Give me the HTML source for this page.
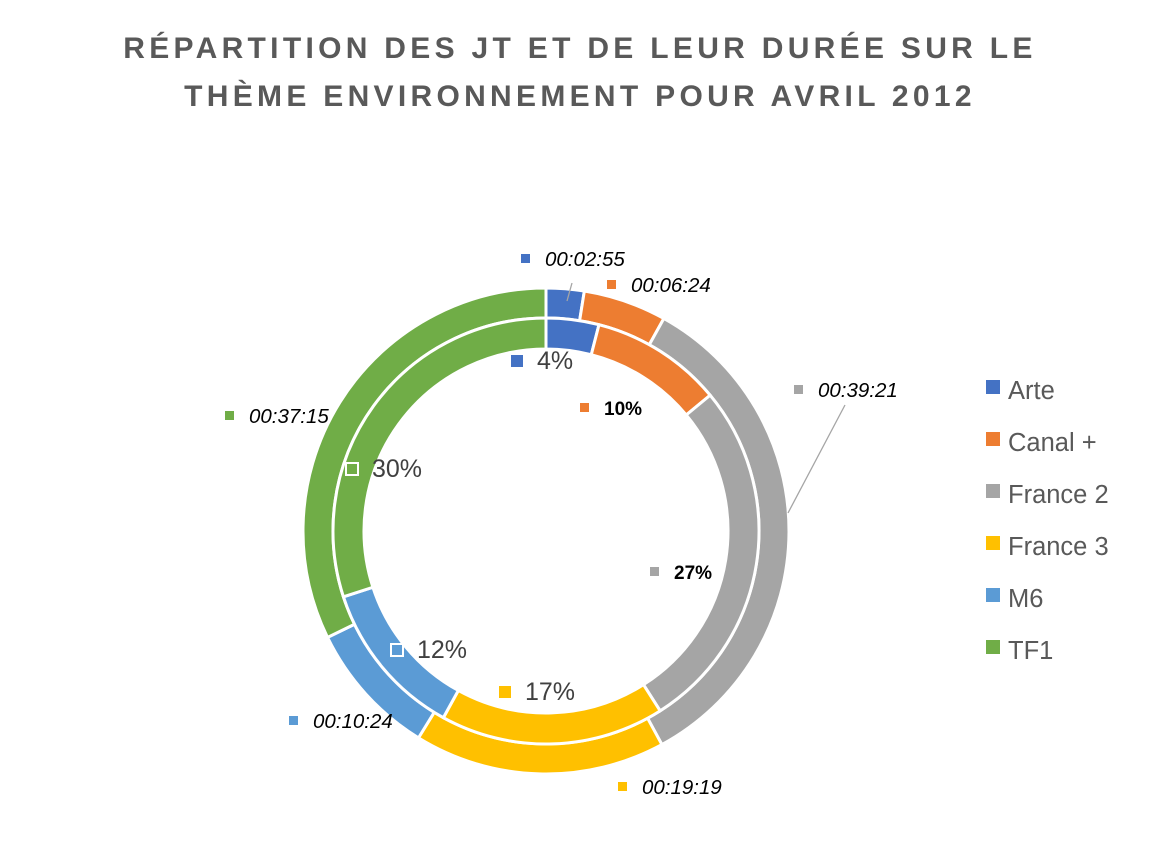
<!DOCTYPE html>
<html><head><meta charset="utf-8"><style>
body{margin:0;background:#fff;width:1160px;height:858px;overflow:hidden;font-family:"Liberation Sans",sans-serif}
</style></head><body>
<svg width="1160" height="858" style="position:absolute;left:0;top:0">
<text x="580" y="58" text-anchor="middle" font-size="30" font-weight="bold" fill="#595959" letter-spacing="4.3">RÉPARTITION DES JT ET DE LEUR DURÉE SUR LE</text>
<text x="580" y="106" text-anchor="middle" font-size="30" font-weight="bold" fill="#595959" letter-spacing="4.3">THÈME ENVIRONNEMENT POUR AVRIL 2012</text>
<g id="rings"></g>
<g id="labels"></g>
<g id="legend"></g>
</svg>
<script>
const categories=["Arte","Canal +","France 2","France 3","M6","TF1"];
const colors=["#4472c4","#ed7d31","#a5a5a5","#ffc000","#5b9bd5","#70ad47"];
const durationsSec=[175,384,2361,1159,624,2235];
const durationLabels=["00:02:55","00:06:24","00:39:21","00:19:19","00:10:24","00:37:15"];
const percentValues=[4,10,27,17,12,30];
const NS="http://www.w3.org/2000/svg";
const cx=546,cy=531;
function arc(r0,r1,a0,a1){
  const p=(r,a)=>[cx+r*Math.sin(a),cy-r*Math.cos(a)];
  const l=(a1-a0)>Math.PI?1:0;
  const [x0,y0]=p(r1,a0),[x1,y1]=p(r1,a1),[x2,y2]=p(r0,a1),[x3,y3]=p(r0,a0);
  return `M${x0},${y0}A${r1},${r1} 0 ${l} 1 ${x1},${y1}L${x2},${y2}A${r0},${r0} 0 ${l} 0 ${x3},${y3}Z`;
}
function ring(vals,r0,r1,name){
  const tot=vals.reduce((a,b)=>a+b,0);let a=0;
  const g=document.getElementById('rings');
  vals.forEach((v,i)=>{
    const a1=a+v/tot*2*Math.PI;
    const p=document.createElementNS(NS,'path');
    p.setAttribute('d',arc(r0,r1,a,a1));
    p.setAttribute('fill',colors[i]);p.setAttribute('stroke','#fff');p.setAttribute('stroke-width','3');
    
    
    g.appendChild(p);a=a1;
  });
}
ring(durationsSec,213,243,'outer-slice');
ring(percentValues,182,213,'inner-slice');
const L=document.getElementById('labels');
function lab(x,y,txt,col,opts,name){
  const r=document.createElementNS(NS,'rect');
  r.setAttribute('x',x);r.setAttribute('y',y-(opts.big?14:12));r.setAttribute('width',opts.big?12:9);r.setAttribute('height',opts.big?12:9);
  r.setAttribute('fill',col);if(opts.outline){r.setAttribute('stroke','#fff');r.setAttribute('stroke-width','2');}
  L.appendChild(r);
  const t=document.createElementNS(NS,'text');
  t.setAttribute('x',x+(opts.big?26:24));t.setAttribute('y',y);t.textContent=txt;
  t.setAttribute('font-size',opts.fs||19);t.setAttribute('fill',opts.fill||'#000');
  if(opts.italic)t.setAttribute('font-style','italic');if(opts.bold)t.setAttribute('font-weight','bold');
  L.appendChild(t);
}
const durPos=[[521,266],[607,292],[794,397],[618,794],[289,728],[225,423]];
durationLabels.forEach((d,i)=>lab(durPos[i][0],durPos[i][1],d,colors[i],{italic:true,fs:20.5},'duration-label-'+i));
const pctPos=[[511,369],[580,415],[650,579],[499,700],[391,658],[346,477]];
const pctStyle=[{big:true,fs:25,fill:'#404040'},{bold:true,fs:19},{bold:true,fs:19},{big:true,fs:25,fill:'#404040'},{big:true,outline:true,fs:25,fill:'#404040'},{big:true,outline:true,fs:25,fill:'#404040'}];
percentValues.forEach((v,i)=>lab(pctPos[i][0],pctPos[i][1],v+'%',colors[i],pctStyle[i],'percent-label-'+i));
[[567,301,572,283],[788,513,845,405]].forEach((c,i)=>{const l=document.createElementNS(NS,'line');
l.setAttribute('x1',c[0]);l.setAttribute('y1',c[1]);l.setAttribute('x2',c[2]);l.setAttribute('y2',c[3]);
l.setAttribute('stroke','#a5a5a5');l.setAttribute('stroke-width','1.3');
L.appendChild(l);});
const G=document.getElementById('legend');
categories.forEach((c,i)=>{const y=390+i*52;
 const r=document.createElementNS(NS,'rect');r.setAttribute('x',986);r.setAttribute('y',y-10);r.setAttribute('width',14);r.setAttribute('height',14);r.setAttribute('fill',colors[i]);
 G.appendChild(r);
 const t=document.createElementNS(NS,'text');t.setAttribute('x',1008);t.setAttribute('y',y+9);t.setAttribute('font-size',25.5);t.setAttribute('fill','#595959');t.textContent=c;
 G.appendChild(t);});
</script>
</body></html>
